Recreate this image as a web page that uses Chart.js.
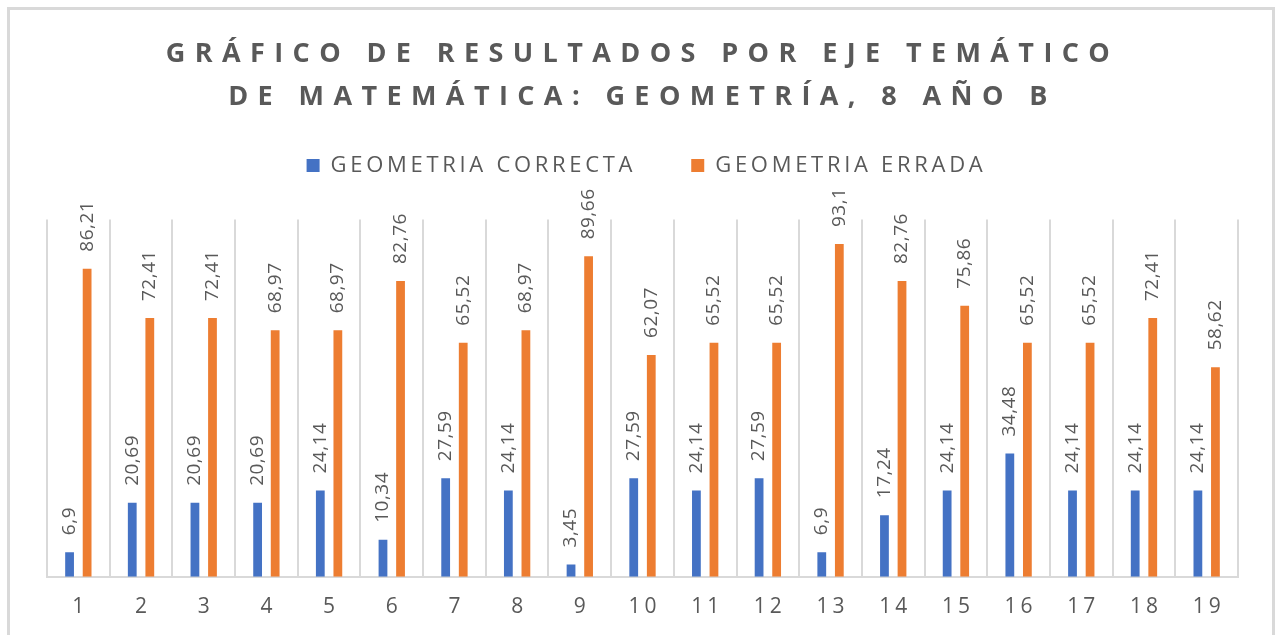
<!DOCTYPE html>
<html lang="es">
<head>
<meta charset="utf-8">
<title>Resultados por eje temático: Geometría</title>
<script src="https://cdn.jsdelivr.net/npm/chart.js@4.4.1/dist/chart.umd.min.js"></script>
<style>
  html, body { margin: 0; padding: 0; background: #ffffff; overflow: hidden; }
  #frame {
    position: absolute; left: 7px; top: 7px; width: 1268px; height: 700px;
    box-sizing: border-box; border: 3px solid #d9d9d9; background: #ffffff;
  }
  #chart { position: absolute; left: 0; top: 0; display: block; }
</style>
</head>
<body>
<div id="frame"></div>
<canvas id="chart" width="1277" height="635"></canvas>
<script>
// ---- data ----
const TITLE_LINES = ['GRÁFICO DE RESULTADOS POR EJE TEMÁTICO', 'DE MATEMÁTICA: GEOMETRÍA, 8 AÑO B'];
const categories = ['1', '2', '3', '4', '5', '6', '7', '8', '9', '10',
                    '11', '12', '13', '14', '15', '16', '17', '18', '19'];
const seriesNames = ['GEOMETRIA CORRECTA', 'GEOMETRIA ERRADA'];
const correcta = [6.9, 20.69, 20.69, 20.69, 24.14, 10.34, 27.59, 24.14, 3.45, 27.59,
                  24.14, 27.59, 6.9, 17.24, 24.14, 34.48, 24.14, 24.14, 24.14];
const errada = [86.21, 72.41, 72.41, 68.97, 68.97, 82.76, 65.52, 68.97, 89.66, 62.07,
                65.52, 65.52, 93.1, 82.76, 75.86, 65.52, 65.52, 72.41, 58.62];
const yRange = [0, 100];

// ---- style ----
const TEXT = '#595959';
const GRID = '#d9d9d9';
const BLUE = '#4472c4';
const ORANGE = '#ed7d31';
const FONT = "'Open Sans', 'DejaVu Sans', sans-serif";

// Run a component method with a given canvas letter spacing (and optional shift).
function spaced(target, method, spacing, dx = 0, dy = 0) {
  if (!target || target['_spaced_' + method]) return;
  const base = target[method];
  target[method] = function (...args) {
    const ctx = this.ctx;
    ctx.save();
    ctx.letterSpacing = spacing;
    if (dx || dy) ctx.translate(dx, dy);
    const out = base.apply(this, args);
    ctx.restore();
    return out;
  };
  target['_spaced_' + method] = true;
}

const textSpacing = {
  id: 'textSpacing',
  beforeUpdate(chart) {
    spaced(chart.titleBlock, 'draw', '9.4px', 0, 0);
    spaced(chart.legend, 'fit', '3.7px');
    spaced(chart.legend, 'draw', '3.7px', 4, -33);
  },
  beforeDraw(chart) {
    spaced(chart.scales.x, 'drawLabels', '4px', 2, 0);
  }
};

// Vertical value labels above every bar (decimal comma).
const barValueLabels = {
  id: 'barValueLabels',
  afterDatasetsDraw(chart) {
    const ctx = chart.ctx;
    ctx.save();
    ctx.font = '19px ' + FONT;
    ctx.fillStyle = TEXT;
    ctx.letterSpacing = '0.5px';
    ctx.textAlign = 'left';
    ctx.textBaseline = 'middle';
    chart.data.datasets.forEach((ds, di) => {
      const meta = chart.getDatasetMeta(di);
      if (meta.hidden) return;
      meta.data.forEach((bar, i) => {
        const txt = String(ds.data[i]).replace('.', ',');
        ctx.save();
        ctx.translate(bar.x, bar.y - 17);
        ctx.rotate(-Math.PI / 2);
        ctx.fillText(txt, 0, 0);
        ctx.restore();
      });
    });
    ctx.restore();
  }
};

new Chart(document.getElementById('chart'), {
  type: 'bar',
  data: {
    labels: categories,
    datasets: [
      { label: seriesNames[0], data: correcta, backgroundColor: BLUE, borderWidth: 0 },
      { label: seriesNames[1], data: errada, backgroundColor: ORANGE, borderWidth: 0 }
    ]
  },
  options: {
    responsive: false,
    devicePixelRatio: 1,
    animation: false,
    categoryPercentage: 0.56,
    barPercentage: 0.5,
    layout: { padding: { left: 47, right: 39, top: 0, bottom: -3 } },
    plugins: {
      title: {
        display: true,
        text: TITLE_LINES,
        color: TEXT,
        font: { family: FONT, size: 27, weight: 'bold', lineHeight: 1.6 },
        padding: { top: 33, bottom: 13 }
      },
      legend: {
        display: true,
        position: 'top',
        labels: {
          color: TEXT,
          font: { family: FONT, size: 22 },
          boxWidth: 13,
          boxHeight: 13,
          padding: 55
        }
      },
      tooltip: { enabled: false }
    },
    scales: {
      x: {
        grid: { offset: true, drawTicks: false, color: GRID, lineWidth: 2 },
        border: { display: true, color: GRID, width: 2 },
        ticks: {
          color: TEXT,
          font: { family: FONT, size: 21 },
          padding: 18,
          maxRotation: 0,
          autoSkip: false
        }
      },
      y: { display: false, min: yRange[0], max: yRange[1] }
    }
  },
  plugins: [textSpacing, barValueLabels]
});
</script>
</body>
</html>
